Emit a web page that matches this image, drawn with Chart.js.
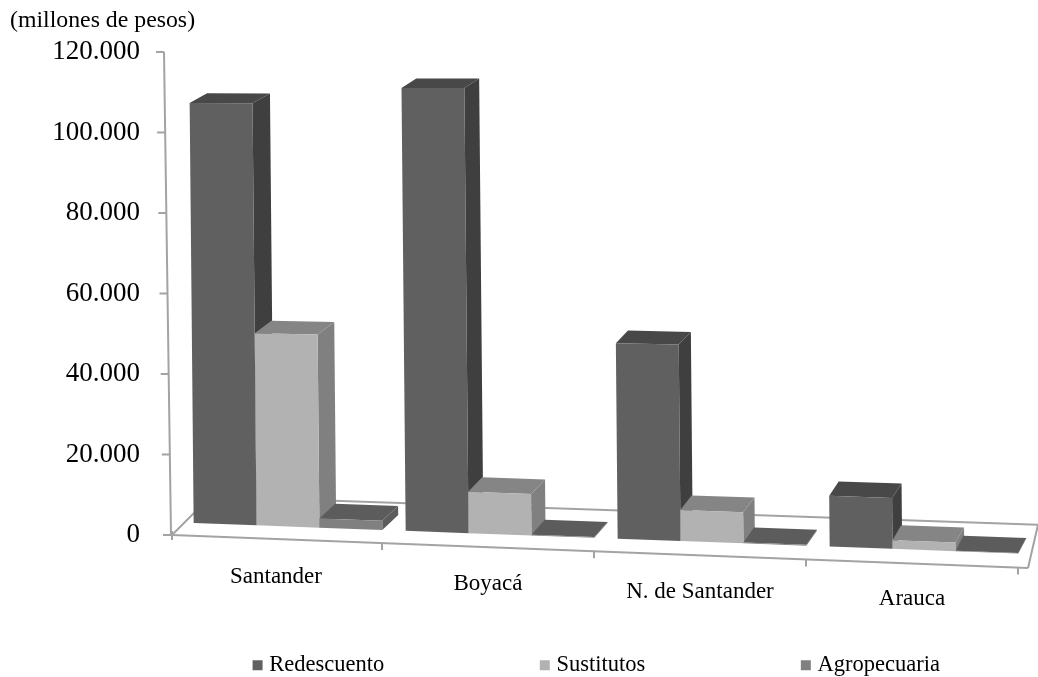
<!DOCTYPE html>
<html lang="es">
<head>
<meta charset="utf-8">
<title>Cartera por departamento</title>
<script src="https://cdn.jsdelivr.net/npm/chart.js@4/dist/chart.umd.js"></script>
<style>
  html, body { margin: 0; padding: 0; background: #fff; }
  canvas { display: block; }
</style>
</head>
<body>
<canvas id="chart" width="1038" height="677"></canvas>
<script>
const categories = ["Santander", "Boyacá", "N. de Santander", "Arauca"];
const redescuento = [107000, 111000, 48200, 12300];
const sustitutos = [48700, 10300, 7600, 2100];
const agropecuaria = [2300, 200, 200, 100];

const SERIF = "'Liberation Serif', 'Times New Roman', serif";
const AXIS_COLOR = "#a3a3a3";

// front colour is the dataset colour, these are the two shaded faces
const faces = [
  { top: "#484848", side: "#3f3f3f" },
  { top: "#858585", side: "#808080" },
  { top: "#5c5c5c", side: "#5c5c5c" }
];

// the floor runs downhill to the right in the original 3D view
const floorShift = (x) => -12 + 0.037 * (x - 194);
const depthX = (x) => 17.5 - 0.0125 * (x - 250);

function poly(ctx, color, pts) {
  ctx.fillStyle = color;
  ctx.beginPath();
  pts.forEach((p, i) => (i ? ctx.lineTo(p[0], p[1]) : ctx.moveTo(p[0], p[1])));
  ctx.closePath();
  ctx.fill();
}

function line(ctx, x1, y1, x2, y2) {
  ctx.beginPath();
  ctx.moveTo(x1, y1);
  ctx.lineTo(x2, y2);
  ctx.stroke();
}

function drawFloorAndAxis(chart) {
  const { ctx, chartArea: ca, scales } = chart;
  const frontY = (x) => ca.bottom + (x - (ca.left - 10)) * 0.0385;
  const backY = (x) => 502 + (x - 370) * 0.034;

  ctx.save();
  ctx.strokeStyle = AXIS_COLOR;
  ctx.lineWidth = 2;

  // y axis leans a little, ticks come from the scale
  const axisX = (y) => ca.left - 11 - 7 * (ca.bottom - y) / (ca.bottom - ca.top);
  line(ctx, axisX(ca.top), ca.top, axisX(ca.bottom), ca.bottom);
  scales.y.ticks.forEach((t) => {
    const y = scales.y.getPixelForValue(t.value);
    line(ctx, axisX(y) - 8, y, axisX(y), y);
  });

  // floor outline
  const left = ca.left - 10, right = ca.right - 2;
  line(ctx, left, frontY(left), right, frontY(right));
  line(ctx, left, frontY(left), left + 24, frontY(left) - 24);
  line(ctx, left + 30, backY(left + 30), chart.width, backY(chart.width));
  line(ctx, right, frontY(right), chart.width, backY(chart.width));
  line(ctx, left, frontY(left) - 4, left, frontY(left) + 5);

  // category separators on the front edge
  categories.forEach((c, i) => {
    const x = scales.x.getPixelForTick(i) + 94;
    line(ctx, x, frontY(x), x, frontY(x) + 7);
  });
  ctx.restore();
}

function drawBar(ctx, el, face, front, ca) {
  const x0 = el.x - el.width / 2;
  const x1 = el.x + el.width / 2;
  const frac = (el.base - el.y) / (ca.bottom - ca.top);
  const tilt = 4.5 * frac;
  const topY = (x) => el.y + floorShift(x) * (1 - frac);
  const dx = depthX(x1);
  const dy = -(15 - 6 * frac);

  const bl = [x0, el.base + floorShift(x0)];
  const br = [x1, el.base + floorShift(x1)];
  const tl = [x0 - tilt, topY(x0)];
  const tr = [x1 - tilt, topY(x1)];

  poly(ctx, face.side, [br, tr, [tr[0] + dx, tr[1] + dy], [br[0] + dx, br[1] + dy]]);
  poly(ctx, face.top, [tl, tr, [tr[0] + dx, tr[1] + dy], [tl[0] + dx, tl[1] + dy]]);
  poly(ctx, front, [bl, br, tr, tl]);
}

const bars3d = {
  id: "bars3d",
  afterLayout(chart) {
    // legend items sit far apart, so its box is placed by hand
    const legend = chart.legend;
    legend.top = 654 - legend.options.labels.padding;
    legend.bottom = chart.height;
    legend.right = 1100;
  },
  beforeDatasetsDraw(chart) {
    const { ctx, chartArea } = chart;
    drawFloorAndAxis(chart);
    categories.forEach((c, i) => {
      chart.data.datasets.forEach((ds, d) => {
        const el = chart.getDatasetMeta(d).data[i];
        drawBar(ctx, el, faces[d], ds.backgroundColor, chartArea);
      });
    });
    return false;
  },
  afterDraw(chart) {
    const { ctx, scales } = chart;
    // category labels step down with the floor
    ctx.save();
    ctx.font = "23px " + SERIF;
    ctx.fillStyle = "#000";
    ctx.textAlign = "center";
    ctx.textBaseline = "middle";
    categories.forEach((c, i) => {
      const x = scales.x.getPixelForTick(i) - 12;
      ctx.fillText(c, x, 577 + (x - 276) * 0.035);
    });
    ctx.restore();
  }
};

new Chart(document.getElementById("chart"), {
  type: "bar",
  data: {
    labels: categories,
    datasets: [
      { label: "Redescuento", data: redescuento, backgroundColor: "#606060" },
      { label: "Sustitutos", data: sustitutos, backgroundColor: "#b2b2b2" },
      { label: "Agropecuaria", data: agropecuaria, backgroundColor: "#808080" }
    ]
  },
  options: {
    responsive: false,
    animation: false,
    events: [],
    layout: { padding: { left: 10, right: 8, top: 0, bottom: 133 } },
    datasets: { bar: { categoryPercentage: 0.89, barPercentage: 1 } },
    scales: {
      x: {
        grid: { display: false },
        border: { display: false },
        ticks: { display: false }
      },
      y: {
        min: 0,
        max: 120000,
        afterFit: (scale) => {
          // the big tick padding would otherwise also push the plot down
          scale.width = 172;
          scale.paddingTop = 0;
          scale.paddingBottom = 0;
        },
        grid: { display: false, drawTicks: false },
        border: { display: false },
        ticks: {
          stepSize: 20000,
          padding: 42,
          color: "#000",
          font: { family: SERIF, size: 27 },
          callback: (v) => String(v).replace(/\B(?=(\d{3})+$)/g, ".")
        }
      }
    },
    plugins: {
      title: {
        display: true,
        text: "(millones de pesos)",
        align: "start",
        color: "#000",
        font: { family: SERIF, size: 23.8, weight: "normal" },
        padding: { top: 6.7, bottom: 16.7 }
      },
      legend: {
        position: "bottom",
        align: "end",
        maxHeight: 1,
        labels: {
          usePointStyle: true,
          pointStyle: "rect",
          boxWidth: 1,
          boxHeight: 10,
          padding: 160,
          color: "#000",
          font: { family: SERIF, size: 22.5 }
        }
      },
      tooltip: { enabled: false }
    }
  },
  plugins: [bars3d]
});
</script>
</body>
</html>
